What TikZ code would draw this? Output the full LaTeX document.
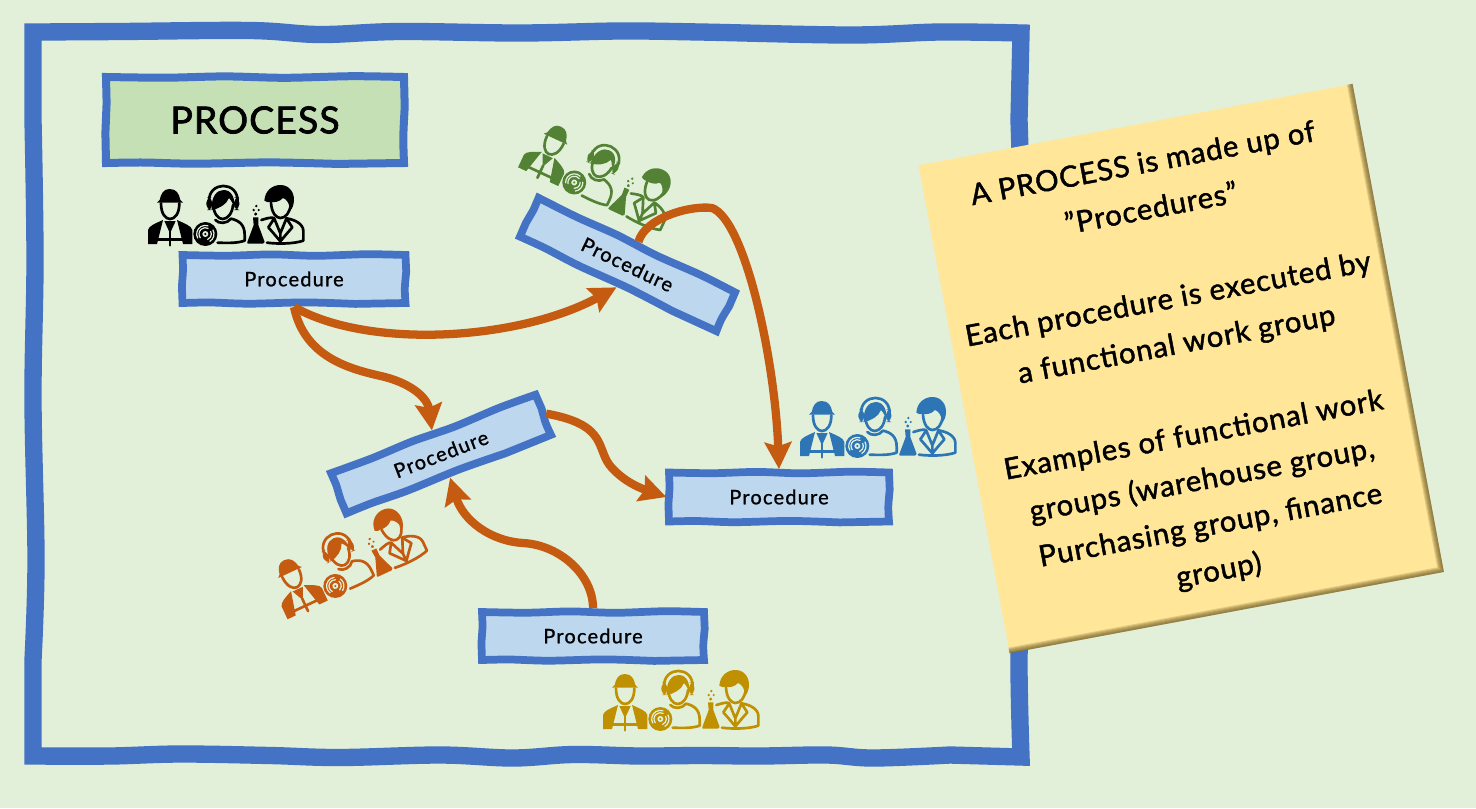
\documentclass[tikz,border=0pt]{standalone}
\usepackage{fontspec}
\setmainfont{Lato}
\usetikzlibrary{arrows.meta,calc}
\definecolor{bgc}{HTML}{E2F0D9}
\definecolor{frameblue}{HTML}{4472C4}
\definecolor{boxblue}{HTML}{BDD7EE}
\definecolor{procgreen}{HTML}{C5E0B4}
\definecolor{notey}{HTML}{FFE699}
\definecolor{arrowor}{HTML}{C55A11}
\definecolor{igreen}{HTML}{548235}
\definecolor{iblue}{HTML}{2E75B6}
\definecolor{igold}{HTML}{BF9000}
\definecolor{shadec}{HTML}{6E5A20}
% wobbly hand-drawn box: centre, angle, half width, half height (px, centre line), fill, line width
\newcommand\wobbox[6]{%
  \begin{scope}[shift={#1},rotate=#2]
    \pgfmathsetmacro\hw{#3}\pgfmathsetmacro\hh{#4}
    \draw[draw=frameblue,fill=#5,line width=#6,line join=miter]
      plot[smooth,tension=0.5] coordinates {(-\hw,-\hh) ({-0.6*\hw},{-\hh+0.7}) ({-0.2*\hw},{-\hh-0.6}) ({0.2*\hw},{-\hh+0.8}) ({0.65*\hw},{-\hh-0.8}) (\hw,-\hh)}
      -- plot[smooth,tension=0.5] coordinates {({\hw+0.7},{-0.3*\hh}) ({\hw-0.7},{0.4*\hh}) (\hw,\hh)}
      -- plot[smooth,tension=0.5] coordinates {({0.55*\hw},{\hh+0.9}) ({0.1*\hw},{\hh-0.6}) ({-0.4*\hw},{\hh+0.7}) ({-0.75*\hw},{\hh-0.5}) (-\hw,\hh)}
      -- plot[smooth,tension=0.5] coordinates {({-\hw-0.6},{0.3*\hh}) ({-\hw+0.6},{-0.4*\hh})} -- cycle;
  \end{scope}}
\tikzset{
  hand/.style={inner sep=0pt,outer sep=0pt},
  procbox/.style={hand,minimum width=169pt,minimum height=42pt,font=\fontsize{15}{18}\selectfont\addfontfeatures{LetterSpace=6,FakeBold=1}},
  titlebox/.style={hand,minimum width=230pt,minimum height=70pt,font=\fontsize{28}{32}\selectfont\addfontfeatures{LetterSpace=3,FakeBold=2}},
  flow/.style={draw=arrowor,line width=6.2pt,-{Stealth[length=20pt,width=20pt,inset=3pt]}},
  framestroke/.style={draw=frameblue,line width=13pt,line join=miter},
  ic/.style={line width=2pt,line cap=round,line join=round},
  crew/.pic={
    \begin{scope}[scale=1/3,shift={(-287,-135)}]
      % worker
      \fill (88,90) .. controls (92,70) and (100,57) .. (118,57) .. controls (138,57) and (146,70) .. (150,90) -- (158,98) -- (80,98) -- cycle;
      \draw[ic] (92,100) .. controls (92,132) and (106,147) .. (119,147) .. controls (133,147) and (147,132) .. (147,100);
      \fill (53,222) -- (53,180) .. controls (55,168) and (75,160) .. (98,150) -- (80,222) -- cycle;
      \fill (186,222) -- (186,180) .. controls (184,168) and (162,160) .. (140,150) -- (158,222) -- cycle;
      \fill (102,153) -- (136,153) -- (119,190) -- cycle;
      \draw[ic] (119,185) -- (119,226) (72,208) -- (165,208);
      % headset woman
      \draw[ic] (249,105) .. controls (250,132) and (264,147) .. (277,147) .. controls (292,147) and (306,130) .. (308,105);
      \fill (244,112) .. controls (244,78) and (260,60) .. (280,60) .. controls (302,60) and (314,80) .. (313,114) .. controls (307,100) and (302,90) .. (296,84) .. controls (288,105) and (265,116) .. (244,120) -- cycle;
      \draw[ic] (236,95) .. controls (234,32) and (324,32) .. (322,95);
      \fill[rounded corners=4pt] (228,82) rectangle (246,120);
      \fill[rounded corners=4pt] (311,82) rectangle (327,120);
      \draw[ic] (255,150) .. controls (265,162) and (290,162) .. (302,146) .. controls (328,152) and (343,165) .. (343,195) -- (343,212) .. controls (320,220) and (290,219) .. (262,218);
      \fill (225,192) circle (36);
      \draw[bgc,line width=0.9pt] (225,192) ++(150:26) arc (150:290:26) (225,192) ++(140:19) arc (140:300:19) (225,192) ++(-30:26) arc (-30:60:26) (225,192) ++(-30:18) arc (-30:70:18);
      \fill[bgc] (225,192) circle (9);
      \fill (225,192) circle (3.5);
      % scientist
      \draw[ic] (422,98) .. controls (424,130) and (438,144) .. (450,144) .. controls (466,144) and (478,128) .. (481,105);
      \fill (402,92) .. controls (404,60) and (428,45) .. (450,45) .. controls (478,45) and (492,68) .. (491,92) .. controls (490,105) and (486,115) .. (481,120) .. controls (476,100) and (470,88) .. (458,84) .. controls (448,96) and (430,98) .. (420,96) .. controls (415,96) and (408,98) .. (402,92) -- cycle;
      \draw[ic] (393,150) .. controls (410,145) and (425,140) .. (432,145) -- (414,172) -- (428,188) -- (450,214) -- (472,188) -- (486,172) -- (468,145) .. controls (490,148) and (518,160) .. (519,182) -- (519,212) .. controls (490,222) and (440,222) .. (410,218) (432,146) -- (450,190) -- (468,146) (450,190) -- (450,218);
      \fill (368,142) -- (384,142) -- (384,165) -- (403,216) .. controls (403,220) and (402,221) .. (398,221) -- (354,221) .. controls (350,221) and (350,218) .. (351,216) -- (370,165) -- cycle;
      \fill (378,108) circle (4) (370,120) circle (4) (385,120) circle (3.5) (376,132) circle (5);
    \end{scope}
  }
}
\begin{document}
\begin{tikzpicture}[x=0.75pt,y=-0.75pt]
\useasboundingbox (0,0) rectangle (1476,808);
\fill[bgc] (0,0) rectangle (1476,808);
% outer frame
\draw[framestroke]
  plot[smooth,tension=0.6] coordinates {(33,32) (120,31.5) (250,30.5) (320,34.5) (400,31.5) (520,33) (620,31) (700,32) (850,35) (940,32) (1021,33)}
  -- plot[smooth,tension=0.6] coordinates {(1019,120) (1022,250) (1020,400) (1022,560) (1019,660) (1021,757)}
  -- plot[smooth,tension=0.6] coordinates {(950,755) (873,758) (827,755) (760,756) (700,755.5) (640,756) (573,754.5) (513,758) (440,755) (340,757.5) (270,755.5) (180,754) (110,756) (33,756)}
  -- plot[smooth,tension=0.6] coordinates {(33,660) (36,560) (33,400) (35,260) (33,120)} -- cycle;
% boxes
\wobbox{(255,120)}{0}{149}{43}{procgreen}{6pt}
\node[titlebox] (title) at (255,120) {PROCESS};
\wobbox{(294,279)}{0}{111.5}{24}{boxblue}{5.8pt}
\node[procbox] (p1) at (294,279) {Procedure};
\wobbox{(627.5,264.5)}{-25.7}{109}{21.5}{boxblue}{5.8pt}
\node[procbox,rotate=-25.7,minimum width=169pt,minimum height=38pt] (p2) at (627.5,264.5) {Procedure};
\wobbox{(441,454)}{21}{109.5}{21.5}{boxblue}{5.8pt}
\node[procbox,rotate=21,minimum width=169pt,minimum height=38pt] (p3) at (441,454) {Procedure};
\wobbox{(779,497)}{0}{110}{24.5}{boxblue}{5.8pt}
\node[procbox] (p4) at (779,497) {Procedure};
\wobbox{(593,636)}{0}{111}{24}{boxblue}{5.8pt}
\node[procbox] (p5) at (593,636) {Procedure};
% work groups
\pic[color=black] at (226,215) {crew};
\pic[color=igreen,rotate=-25] at (601,174) {crew};
\pic[color=arrowor,rotate=25] at (346,560) {crew};
\pic[color=iblue] at (878,427) {crew};
\pic[color=igold] at (681,700) {crew};
% connectors
\draw[flow] (p1.south) .. controls (370,350) and (520,340) .. (p2.south);
\draw[flow] (p1.south) .. controls (305,360) and (355,370) .. (385,377) .. controls (415,385) and (428,400) .. (p3.north);
\draw[flow] (p3.east) .. controls (610,425) and (595,450) .. (612,468) .. controls (625,482) and (640,488) .. (p4.west);
\draw[flow] (p5.north) .. controls (593,575) and (560,545) .. (523,543) .. controls (490,541) and (463,520) .. (p3.south);
\draw[flow] (p2.north) .. controls (645,218) and (690,205) .. (712,208) .. controls (745,220) and (775,360) .. (p4.north);
% note
\node[fill=notey,rotate=10.6,minimum width=331pt,minimum height=372pt,inner sep=0pt] (note) at (1181,368.5) {};
\begin{scope}
  \clip (note.north west) -- (note.north east) -- (note.south east) -- (note.south west) -- cycle;
  \foreach \w in {1,2.5,4,5.5,7,8.5}{
    \draw[shadec,opacity=0.2,line width=\w pt] (note.north east) -- (note.south east) -- (note.south west);
  }
\end{scope}
\node[rotate=10.6,align=center,inner sep=0pt,font=\fontsize{22}{34.5}\selectfont\addfontfeatures{LetterSpace=3,FakeBold=1.5}] (notetext) at (note.center) {A PROCESS is made up of\\”Procedures”\\[34.5pt]Each procedure is executed by\\a functional work group\\[34.5pt]Examples of functional work\\groups (warehouse group,\\Purchasing group, finance\\group)};
\end{tikzpicture}
\end{document}
